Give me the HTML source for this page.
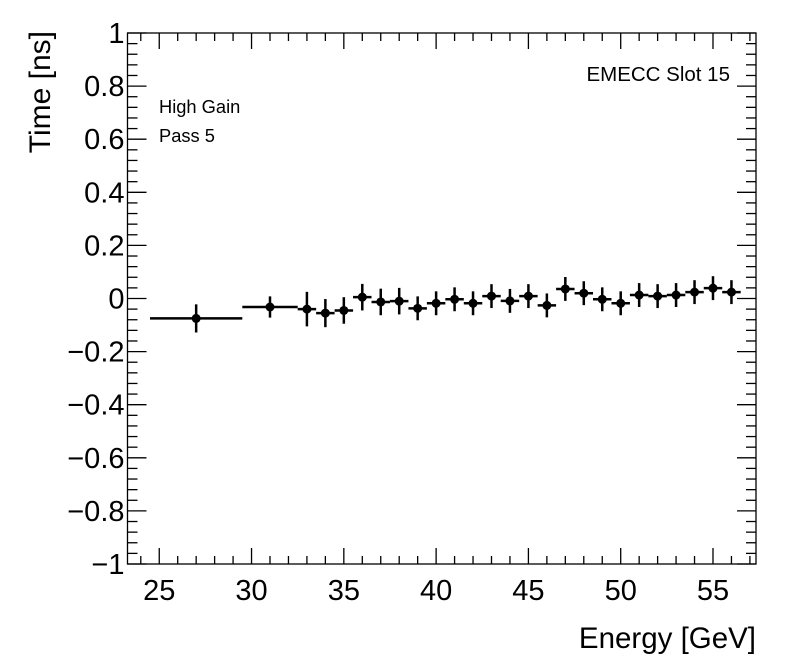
<!DOCTYPE html>
<html><head><meta charset="utf-8"><style>
html,body{margin:0;padding:0;background:#fff;}
svg{display:block;font-family:"Liberation Sans",Arial,sans-serif;}
</style></head><body>
<svg id="chart" width="796" height="672" viewBox="0 0 796 672">
<rect x="0" y="0" width="796" height="672" fill="#fff"/>
<g id="axes"></g>
<g id="marks"></g>
<text x="756" y="648" font-size="29.5" text-anchor="end">Energy [GeV]</text>
<text transform="translate(50,31) rotate(-90)" font-size="30" text-anchor="end">Time [ns]</text>
<text x="730" y="81" font-size="20.5" text-anchor="end">EMECC Slot 15</text>
<text x="159" y="113" font-size="18.3">High Gain</text>
<text x="159" y="142" font-size="18.3">Pass 5</text>
</svg>
<script>
const xCenters=[27,31,33,34,35,36,37,38,39,40,41,42,43,44,45,46,47,48,49,50,51,52,53,54,55,56];
const xLow=[24.5,29.5,32.5,33.5,34.5,35.5,36.5,37.5,38.5,39.5,40.5,41.5,42.5,43.5,44.5,45.5,46.5,47.5,48.5,49.5,50.5,51.5,52.5,53.5,54.5,55.5];
const xHigh=[29.5,32.5,33.5,34.5,35.5,36.5,37.5,38.5,39.5,40.5,41.5,42.5,43.5,44.5,45.5,46.5,47.5,48.5,49.5,50.5,51.5,52.5,53.5,54.5,55.5,56.5];
const yValues=[-0.075,-0.032,-0.04,-0.055,-0.045,0.005,-0.013,-0.01,-0.037,-0.018,-0.003,-0.018,0.009,-0.009,0.009,-0.026,0.036,0.02,-0.003,-0.018,0.013,0.009,0.013,0.024,0.039,0.024];
const yErrors=[0.053,0.04,0.065,0.053,0.05,0.05,0.05,0.05,0.045,0.045,0.045,0.045,0.045,0.045,0.045,0.045,0.045,0.045,0.045,0.045,0.045,0.045,0.045,0.045,0.045,0.045];
const xTicks=[25,30,35,40,45,50,55];
const yTicks=[-1,-0.8,-0.6,-0.4,-0.2,0,0.2,0.4,0.6,0.8,1];
const yTickLabels=["\u22121","\u22120.8","\u22120.6","\u22120.4","\u22120.2","0","0.2","0.4","0.6","0.8","1"];
const L=127.5,R=756,T=33,B=564,XMIN=23.28,XMAX=57.33,YMIN=-1,YMAX=1;
const sx=v=>L+(v-XMIN)/(XMAX-XMIN)*(R-L);
const sy=v=>B-(v-YMIN)/(YMAX-YMIN)*(B-T);
const NS="http://www.w3.org/2000/svg";
function mk(tag,attrs,parent){const e=document.createElementNS(NS,tag);for(const k in attrs)e.setAttribute(k,attrs[k]);parent.appendChild(e);return e;}
const ax=document.getElementById('axes'),mg=document.getElementById('marks');
const frame=mk('rect',{x:L,y:T,width:R-L,height:B-T,fill:'none',stroke:'#000','stroke-width':1.3},ax);


for(let v=24;v<=57;v++){const maj=v%5===0;const h=maj?16:8;
 mk('line',{x1:sx(v),x2:sx(v),y1:B,y2:B-h,stroke:'#000','stroke-width':1.3},ax);
 mk('line',{x1:sx(v),x2:sx(v),y1:T,y2:T+h,stroke:'#000','stroke-width':1.3},ax);}
xTicks.forEach(v=>{const t=mk('text',{x:sx(v),y:B+36,'font-size':29,'text-anchor':'middle'},ax);t.textContent=v;
 
 });
for(let i=0;i<=50;i++){const v=-1+i*0.04;const maj=i%5===0;const w=maj?19:10;
 mk('line',{x1:L,x2:L+w,y1:sy(v),y2:sy(v),stroke:'#000','stroke-width':1.3},ax);
 mk('line',{x1:R,x2:R-w,y1:sy(v),y2:sy(v),stroke:'#000','stroke-width':1.3},ax);}
yTicks.forEach((v,i)=>{const t=mk('text',{x:L-3,y:sy(v)+10,'font-size':29,'text-anchor':'end'},ax);t.textContent=yTickLabels[i];
 
 });
xCenters.forEach((x,i)=>{const g=mk('g',{},mg);
 
 
 const y=sy(yValues[i]);
 mk('line',{x1:sx(xLow[i]),x2:sx(xHigh[i]),y1:y,y2:y,stroke:'#000','stroke-width':2.5},g);
 mk('line',{x1:sx(x),x2:sx(x),y1:sy(yValues[i]+yErrors[i]),y2:sy(yValues[i]-yErrors[i]),stroke:'#000','stroke-width':2.5},g);
 mk('circle',{cx:sx(x),cy:y,r:4.5,fill:'#000'},g);});
</script>
</body></html>
